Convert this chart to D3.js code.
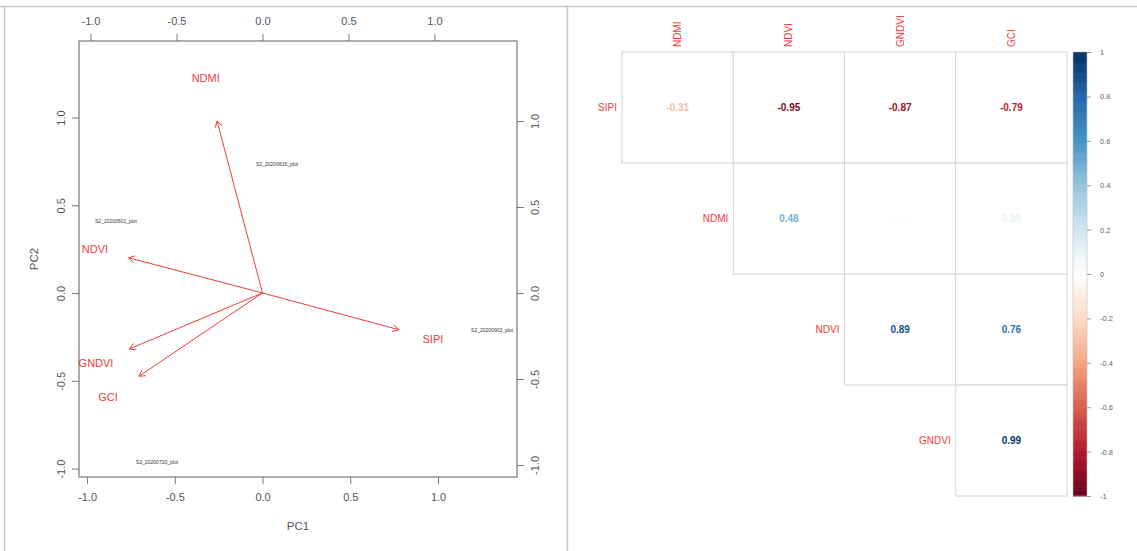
<!DOCTYPE html>
<html>
<head>
<meta charset="utf-8">
<script src="https://cdn.jsdelivr.net/npm/d3@7"></script>
<style>
  body { margin: 0; background: #fff; }
  svg { display: block; font-family: "Liberation Sans", Arial, sans-serif; }
</style>
</head>
<body>
<svg id="chart" width="1137" height="551"></svg>
<script>
// PCA biplot data: variable loadings (label positions) and sample scores
const variables = ["NDMI", "NDVI", "GNDVI", "GCI", "SIPI"];
const loadingPC1 = [-0.33, -0.974, -0.968, -0.898, 0.991];
const loadingPC2 = [1.25, 0.256, -0.407, -0.605, -0.267];

const samples = ["S2_20200615_plot", "S2_20200501_plot", "S2_20200720_plot", "S2_20200903_plot"];
const scorePC1 = [0.083, -0.835, -0.601, 1.308];
const scorePC2 = [0.735, 0.41, -0.963, -0.211];

const axisTicks = [-1.0, -0.5, 0.0, 0.5, 1.0];

// Correlation matrix (upper triangle)
const rowVars = ["SIPI", "NDMI", "NDVI", "GNDVI"];
const colVars = ["NDMI", "NDVI", "GNDVI", "GCI"];
const corrSIPI = [-0.31, -0.95, -0.87, -0.79];
const corrNDMI = [0.48, 0.02, 0.09];
const corrNDVI = [0.89, 0.76];
const corrGNDVI = [0.99];
const colorbarTicks = [1, 0.8, 0.6, 0.4, 0.2, 0, -0.2, -0.4, -0.6, -0.8, -1];

const svg = d3.select("#chart");

// page frame
const frame = svg.append("g").attr("stroke", "#c8c8c8").attr("stroke-width", 1.5).attr("fill", "none");
frame.append("line").attr("x1", 0).attr("x2", 1137).attr("y1", 6.5).attr("y2", 6.5);
frame.append("line").attr("x1", 4.5).attr("x2", 4.5).attr("y1", 6).attr("y2", 551);
frame.append("line").attr("x1", 567.5).attr("x2", 567.5).attr("y1", 6).attr("y2", 551);

// ---------- Biplot ----------
const box = { x0: 79, x1: 517, y0: 41, y1: 477 };
const xS = d3.scaleLinear().domain([-1.046, 1.450]).range([box.x0, box.x1]);
const yS = d3.scaleLinear().domain([-1.048, 1.436]).range([box.y1, box.y0]);
const xL = d3.scaleLinear().domain([-1.067, 1.480]).range([box.x0, box.x1]);
const yL = d3.scaleLinear().domain([-1.070, 1.465]).range([box.y1, box.y0]);

const axisColor = "#777";
const tickColor = "#555";

svg.append("rect")
  .attr("x", box.x0).attr("y", box.y0)
  .attr("width", box.x1 - box.x0).attr("height", box.y1 - box.y0)
  .attr("fill", "none").attr("stroke", axisColor).attr("stroke-width", 1.2);

function styleAxis(g) {
  g.select(".domain").remove();
  g.selectAll(".tick line").attr("stroke", axisColor).attr("stroke-width", 1);
  g.selectAll(".tick text").attr("fill", tickColor).attr("font-size", 11)
    .attr("font-family", "Liberation Sans, Arial, sans-serif");
}
const fmt = d => d.toFixed(1);

svg.append("g").attr("transform", `translate(0,${box.y1})`)
  .call(d3.axisBottom(xS).tickValues(axisTicks).tickFormat(fmt).tickSize(7).tickPadding(9))
  .call(styleAxis);
svg.append("g").attr("transform", `translate(0,${box.y0})`)
  .call(d3.axisTop(xL).tickValues(axisTicks).tickFormat(fmt).tickSize(7).tickPadding(9))
  .call(styleAxis);

const gl = svg.append("g").attr("transform", `translate(${box.x0},0)`)
  .call(d3.axisLeft(yS).tickValues(axisTicks).tickFormat(fmt).tickSize(7).tickPadding(0))
  .call(styleAxis);
gl.selectAll(".tick text").attr("x", null).attr("dy", null)
  .attr("text-anchor", "middle")
  .attr("transform", "translate(-14,0) rotate(-90)");

const gr = svg.append("g").attr("transform", `translate(${box.x1},0)`)
  .call(d3.axisRight(yL).tickValues(axisTicks).tickFormat(fmt).tickSize(7).tickPadding(0))
  .call(styleAxis);
gr.selectAll(".tick text").attr("x", null).attr("dy", null)
  .attr("text-anchor", "middle")
  .attr("transform", "translate(22,0) rotate(-90)");

svg.append("text").attr("x", (box.x0 + box.x1) / 2).attr("y", 530)
  .attr("text-anchor", "middle").attr("font-size", 11.5).attr("fill", "#555").text("PC1");
svg.append("text").attr("transform", `translate(38,${(box.y0 + box.y1) / 2}) rotate(-90)`)
  .attr("text-anchor", "middle").attr("font-size", 11.5).attr("fill", "#555").text("PC2");

// sample scores as small labels
svg.append("g").selectAll("text").data(samples).join("text")
  .attr("x", (d, i) => xS(scorePC1[i]))
  .attr("y", (d, i) => yS(scorePC2[i]))
  .attr("dy", "0.35em")
  .attr("text-anchor", "middle")
  .attr("font-size", 5)
  .attr("fill", "#333")
  .text(d => d);

// loading arrows (drawn at 0.8 of the loading, label at the loading)
const arrowColor = "#f03b3b";
const ox = xL(0), oy = yL(0);
const arrows = svg.append("g").attr("stroke", arrowColor).attr("stroke-width", 1).attr("fill", "none");
variables.forEach((v, i) => {
  const tx = xL(loadingPC1[i] * 0.8), ty = yL(loadingPC2[i] * 0.8);
  arrows.append("line").attr("x1", ox).attr("y1", oy).attr("x2", tx).attr("y2", ty);
  const ang = Math.atan2(ty - oy, tx - ox);
  const L = 7, spread = Math.PI / 6;
  [ang + Math.PI - spread, ang + Math.PI + spread].forEach(a => {
    arrows.append("line").attr("x1", tx).attr("y1", ty)
      .attr("x2", tx + L * Math.cos(a)).attr("y2", ty + L * Math.sin(a));
  });
});
svg.append("g").selectAll("text").data(variables).join("text")
  .attr("x", (d, i) => xL(loadingPC1[i]))
  .attr("y", (d, i) => yL(loadingPC2[i]))
  .attr("dy", "0.35em")
  .attr("text-anchor", "middle")
  .attr("font-size", 11)
  .attr("fill", "#f03b3b")
  .text(d => d);

// ---------- Correlation plot ----------
const corrRows = [corrSIPI, corrNDMI, corrNDVI, corrGNDVI];
const cells = [];
corrRows.forEach((vals, r) => {
  vals.forEach((v, k) => {
    const c = r + k;
    cells.push({ row: rowVars[r], col: colVars[c], value: v });
  });
});

const gx = d3.scaleBand().domain(colVars).range([622, 1067]);
const gy = d3.scaleBand().domain(rowVars).range([52, 496]);

const palette = ["#67001F", "#B2182B", "#D6604D", "#F4A582", "#FDDBC7", "#FFFFFF",
                 "#D1E5F0", "#92C5DE", "#4393C3", "#2166AC", "#053061"];
const colorScale = d3.scaleLinear()
  .domain(d3.range(palette.length).map(i => -1 + 2 * i / (palette.length - 1)))
  .range(palette).interpolate(d3.interpolateRgb);

const cg = svg.append("g");
cg.selectAll("rect").data(cells).join("rect")
  .attr("x", d => gx(d.col)).attr("y", d => gy(d.row))
  .attr("width", gx.bandwidth()).attr("height", gy.bandwidth())
  .attr("fill", "#fff").attr("stroke", "#d4d4d4").attr("stroke-width", 1);

cg.selectAll("text.val").data(cells).join("text").attr("class", "val")
  .attr("x", d => gx(d.col) + gx.bandwidth() / 2)
  .attr("y", d => gy(d.row) + gy.bandwidth() / 2)
  .attr("dy", "0.35em").attr("text-anchor", "middle")
  .attr("font-size", 10).attr("font-weight", "bold")
  .attr("fill", d => colorScale(d.value))
  .text(d => d.value.toFixed(2));

// row labels sit just left of the first cell of each row
cg.selectAll("text.rowlab").data(rowVars).join("text").attr("class", "rowlab")
  .attr("x", (d, i) => gx(colVars[i]) - 5)
  .attr("y", d => gy(d) + gy.bandwidth() / 2)
  .attr("dy", "0.35em").attr("text-anchor", "end")
  .attr("font-size", 10).attr("fill", "#f03b3b")
  .text(d => d);

cg.selectAll("text.collab").data(colVars).join("text").attr("class", "collab")
  .attr("transform", d => `translate(${gx(d) + gx.bandwidth() / 2},47) rotate(-90)`)
  .attr("dy", "0.35em").attr("text-anchor", "start")
  .attr("font-size", 10).attr("fill", "#f03b3b")
  .text(d => d);

// color legend
const cbX = 1073, cbW = 14;
const cbY = d3.scaleLinear().domain([1, -1]).range([52, 496]);
const steps = 200;
const cb = svg.append("g");
cb.selectAll("rect").data(d3.range(steps)).join("rect")
  .attr("x", cbX).attr("width", cbW)
  .attr("y", i => cbY(1 - 2 * i / steps))
  .attr("height", cbY(0) - cbY(2 / steps) + 0.5)
  .attr("fill", i => colorScale(1 - 2 * (i + 0.5) / steps));
cb.append("rect").attr("x", cbX).attr("y", cbY(1)).attr("width", cbW)
  .attr("height", cbY(-1) - cbY(1)).attr("fill", "none").attr("stroke", "#bbb").attr("stroke-width", 0.6);
const cba = svg.append("g").attr("transform", `translate(${cbX + cbW},0)`)
  .call(d3.axisRight(cbY).tickValues(colorbarTicks).tickFormat(d => String(d)).tickSize(4).tickPadding(9));
cba.select(".domain").remove();
cba.selectAll(".tick line").attr("stroke", "#999");
cba.selectAll(".tick text").attr("fill", "#666").attr("font-size", 7.5)
  .attr("font-family", "Liberation Sans, Arial, sans-serif");
</script>
</body>
</html>
